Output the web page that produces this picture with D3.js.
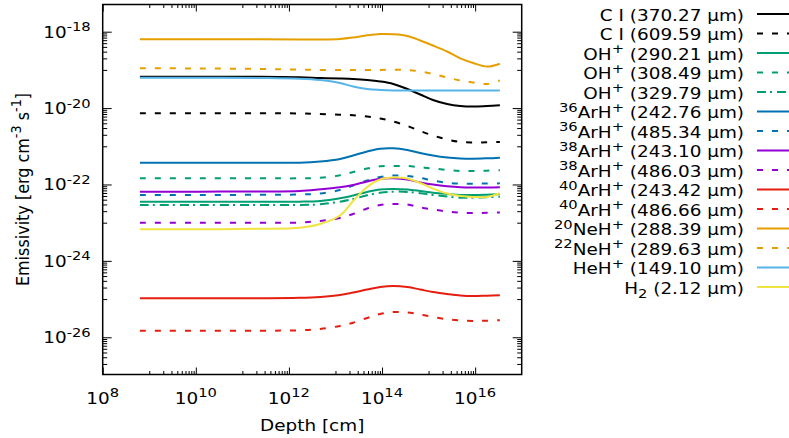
<!DOCTYPE html>
<html><head><meta charset="utf-8">
<script src="https://cdn.jsdelivr.net/npm/d3@7"></script>
<style>body{margin:0;background:#fff} text{font-family:"DejaVu Sans",sans-serif;fill:#000}</style>
</head><body><svg id="c" width="789" height="438"></svg>
<script>
// ---------- data ----------
const depth = [6.3e8, 1.2e10, 2.4e11, 1.7e12, 4.7e12, 1.25e13, 2.4e13, 4.8e13, 9.1e13, 1.74e14, 3.5e14, 6.6e14, 1.24e15, 2.5e15, 4.8e15, 9.1e15, 1.8e16, 3.4e16];
const ci370   = [6.6e-20,6.6e-20,6.6e-20,6.4e-20,6.14e-20,5.96e-20,5.78e-20,5.44e-20,4.97e-20,4.28e-20,3.16e-20,2.27e-20,1.63e-20,1.28e-20,1.135e-20,1.10e-20,1.135e-20,1.18e-20];
const ci609   = [7.31e-21,7.31e-21,7.31e-21,7.23e-21,7.01e-21,6.71e-21,6.49e-21,6.03e-21,5.35e-21,4.46e-21,3.40e-21,2.52e-21,1.92e-21,1.51e-21,1.30e-21,1.26e-21,1.27e-21,1.30e-21];
const oh290   = [3.55e-23,3.55e-23,3.55e-23,3.55e-23,3.70e-23,4.36e-23,5.15e-23,6.37e-23,7.40e-23,7.62e-23,7.40e-23,6.76e-23,6.10e-23,5.64e-23,5.31e-23,5.31e-23,5.41e-23,5.53e-23];
const oh308   = [1.45e-22,1.45e-22,1.45e-22,1.45e-22,1.50e-22,1.74e-22,2.12e-22,2.62e-22,2.99e-22,3.05e-22,3.05e-22,2.82e-22,2.62e-22,2.40e-22,2.25e-22,2.25e-22,2.30e-22,2.36e-22];
const oh329   = [2.90e-23,2.90e-23,2.90e-23,2.90e-23,3.03e-23,3.55e-23,4.17e-23,5.21e-23,6.10e-23,6.49e-23,6.37e-23,5.89e-23,5.31e-23,4.85e-23,4.51e-23,4.51e-23,4.62e-23,4.80e-23];
const ar36a   = [3.72e-22,3.72e-22,3.72e-22,3.72e-22,4.00e-22,4.66e-22,5.74e-22,7.31e-22,8.65e-22,8.87e-22,8.00e-22,6.68e-22,5.74e-22,5.09e-22,4.80e-22,4.73e-22,4.85e-22,5.04e-22];
const ar36b   = [5.31e-23,5.31e-23,5.37e-23,5.47e-23,5.81e-23,7.18e-23,9.42e-23,1.27e-22,1.57e-22,1.72e-22,1.67e-22,1.48e-22,1.27e-22,1.11e-22,1.05e-22,1.05e-22,1.06e-22,1.07e-22];
const ar38a   = [6.49e-23,6.49e-23,6.56e-23,6.76e-23,7.48e-23,8.45e-23,9.70e-23,1.20e-22,1.41e-22,1.45e-22,1.35e-22,1.13e-22,1.00e-22,9.02e-23,8.49e-23,8.34e-23,8.34e-23,8.45e-23];
const ar38b   = [1.00e-23,1.00e-23,1.00e-23,1.01e-23,1.11e-23,1.33e-23,1.69e-23,2.36e-23,2.90e-23,3.09e-23,2.99e-23,2.50e-23,2.22e-23,1.96e-23,1.83e-23,1.79e-23,1.82e-23,1.85e-23];
const ar40a   = [1.05e-25,1.05e-25,1.05e-25,1.08e-25,1.14e-25,1.28e-25,1.49e-25,1.78e-25,2.07e-25,2.20e-25,2.07e-25,1.78e-25,1.53e-25,1.36e-25,1.24e-25,1.20e-25,1.23e-25,1.26e-25];
const ar40b   = [1.49e-26,1.49e-26,1.49e-26,1.52e-26,1.65e-26,1.98e-26,2.41e-26,3.20e-26,4.07e-26,4.59e-26,4.46e-26,3.95e-26,3.40e-26,2.96e-26,2.75e-26,2.67e-26,2.72e-26,2.79e-26];
const ne20    = [6.32e-19,6.32e-19,6.32e-19,6.28e-19,6.25e-19,6.45e-19,7.05e-19,8.05e-19,8.71e-19,8.55e-19,7.71e-19,5.89e-19,4.36e-19,3.03e-19,2.01e-19,1.52e-19,1.22e-19,1.45e-19];
const ne22    = [1.10e-19,1.09e-19,1.06e-19,1.02e-19,9.93e-20,9.93e-20,9.93e-20,9.93e-20,9.93e-20,1.01e-19,9.93e-20,9.08e-20,7.82e-20,6.32e-20,5.28e-20,4.68e-20,4.28e-20,5.28e-20];
const heh     = [6.25e-20,6.25e-20,6.14e-20,5.89e-20,5.44e-20,4.54e-20,3.67e-20,3.16e-20,2.98e-20,2.89e-20,2.89e-20,2.89e-20,2.89e-20,2.89e-20,2.89e-20,2.89e-20,2.89e-20,2.89e-20];
const h2      = [6.71e-24,6.71e-24,6.92e-24,7.40e-24,9.25e-24,1.54e-23,3.70e-23,8.61e-23,1.35e-22,1.52e-22,1.44e-22,1.09e-22,7.85e-23,5.81e-23,5.00e-23,4.71e-23,4.71e-23,5.89e-23];

const seriesLabels = ["C I (370.27 µm)","C I (609.59 µm)","OH^{+} (290.21 µm)","OH^{+} (308.49 µm)","OH^{+} (329.79 µm)",
  "^{36}ArH^{+} (242.76 µm)","^{36}ArH^{+} (485.34 µm)","^{38}ArH^{+} (243.10 µm)","^{38}ArH^{+} (486.03 µm)",
  "^{40}ArH^{+} (243.42 µm)","^{40}ArH^{+} (486.66 µm)","^{20}NeH^{+} (288.39 µm)","^{22}NeH^{+} (289.63 µm)",
  "HeH^{+} (149.10 µm)","H_{2} (2.12 µm)"];
const seriesValues = [ci370,ci609,oh290,oh308,oh329,ar36a,ar36b,ar38a,ar38b,ar40a,ar40b,ne20,ne22,heh,h2];
const xMajorExps = [8,10,12,14,16];
const yMajorExps = [-18,-20,-22,-24,-26];
const xTitle = "Depth [cm]";
const yTitle = "Emissivity [erg cm^{-3} s^{-1}]";

// ---------- styles ----------
const DASH = "6,9", DASHDOT = "9,4,2,5";
const styles = [
  {c:"#000000",d:null},{c:"#000000",d:DASH},
  {c:"#009e73",d:null},{c:"#009e73",d:DASH},{c:"#009e73",d:DASHDOT},
  {c:"#0072b2",d:null},{c:"#0072b2",d:DASH},
  {c:"#9400d3",d:null},{c:"#9400d3",d:DASH},
  {c:"#e51e10",d:null},{c:"#e51e10",d:DASH},
  {c:"#e69f00",d:null},{c:"#e69f00",d:DASH},
  {c:"#56b4e9",d:null},{c:"#f0e442",d:null}
];

const FS = 16, SX = 1.15;
const svg = d3.select("#c");
const L = 102.7, R = 521.7, T = 4.5, B = 374.5;
const x = d3.scaleLog().domain([1e8, 1e17]).range([L, R]);
const y = d3.scaleLog().domain([1.06e-27, 5.15e-18]).range([B, T]);

function rich(sel, str, fs){
  const parts = str.split(/(\^\{[^}]*\}|_\{[^}]*\})/).filter(s => s.length);
  let off = 0;
  parts.forEach(p => {
    let shift = 0, size = fs, t = p;
    if (p.startsWith("^{")) { shift = -0.4*fs; size = 0.8*fs; t = p.slice(2,-1); }
    else if (p.startsWith("_{")) { shift = 0.25*fs; size = 0.8*fs; t = p.slice(2,-1); }
    sel.append("tspan").attr("dy", shift - off).attr("font-size", size).text(t);
    off = shift;
  });
}

// ticks
const xMajor = xMajorExps.map(e => Math.pow(10, e));
const yMajor = yMajorExps.map(e => Math.pow(10, e));
const [xd0, xd1] = x.domain(), [yd0, yd1] = y.domain();
const xMinor = [], yMinor = [];
xMajorExps.forEach(e => { for (let k = 1; k <= 9; k++) { const v = k*Math.pow(10, e+1); if (v > xd0*1.0001 && v < xd1*0.999) xMinor.push(v); } });
[-28].concat(yMajorExps).forEach(e => { for (let k = 1; k <= 9; k++) { const v = k*Math.pow(10, e+1); if (v > yd0*1.0001 && v < yd1*0.999) yMinor.push(v); } });

function axisG(axis, tr){
  const g = svg.append("g").attr("transform", tr).call(axis);
  g.select(".domain").remove();
  g.selectAll("line").attr("stroke", "#000").attr("stroke-width", 1);
  g.selectAll("text").remove();
}
axisG(d3.axisBottom(x).tickValues(xMajor).tickSizeInner(-7).tickSizeOuter(0).tickFormat(""), `translate(0,${B})`);
axisG(d3.axisBottom(x).tickValues(xMinor).tickSizeInner(-3.5).tickSizeOuter(0).tickFormat(""), `translate(0,${B})`);
axisG(d3.axisTop(x).tickValues(xMajor).tickSizeInner(-7).tickSizeOuter(0).tickFormat(""), `translate(0,${T})`);
axisG(d3.axisTop(x).tickValues(xMinor).tickSizeInner(-3.5).tickSizeOuter(0).tickFormat(""), `translate(0,${T})`);
axisG(d3.axisLeft(y).tickValues(yMajor).tickSizeInner(-9).tickSizeOuter(0).tickFormat(""), `translate(${L},0)`);
axisG(d3.axisLeft(y).tickValues(yMinor).tickSizeInner(-4.5).tickSizeOuter(0).tickFormat(""), `translate(${L},0)`);
axisG(d3.axisRight(y).tickValues(yMajor).tickSizeInner(-9).tickSizeOuter(0).tickFormat(""), `translate(${R},0)`);
axisG(d3.axisRight(y).tickValues(yMinor).tickSizeInner(-4.5).tickSizeOuter(0).tickFormat(""), `translate(${R},0)`);

// tick labels
xMajorExps.forEach(e => {
  const t = svg.append("text").attr("text-anchor", "middle")
    .attr("transform", `translate(${x(Math.pow(10,e))},403.5) scale(${SX},1)`).attr("font-size", FS);
  rich(t, `10^{${e}}`, FS);
});
yMajorExps.forEach(e => {
  const t = svg.append("text").attr("text-anchor", "end")
    .attr("transform", `translate(90.7,${y(Math.pow(10,e)) + 6}) scale(${SX},1)`).attr("font-size", FS);
  rich(t, `10^{${e}}`, FS);
});

// titles
const xt = svg.append("text").attr("text-anchor", "middle")
  .attr("transform", `translate(${(L+R)/2},431) scale(${SX},1)`).attr("font-size", FS);
rich(xt, xTitle, FS);
const yt = svg.append("text").attr("text-anchor", "middle")
  .attr("transform", `translate(28.5,189.5) scale(${SX},1) rotate(-90)`).attr("font-size", FS);
rich(yt, yTitle, FS);

// lines
svg.append("clipPath").attr("id", "clip").append("rect").attr("x", L).attr("y", T).attr("width", R-L).attr("height", B-T);
const line = d3.line().x((d,i) => x(depth[i])).y(d => y(d)).curve(d3.curveCatmullRom.alpha(0.5));
const plot = svg.append("g").attr("clip-path", "url(#clip)");
seriesValues.forEach((vals, i) => {
  plot.append("path").attr("d", line(vals)).attr("fill", "none")
    .attr("stroke", styles[i].c).attr("stroke-width", 2)
    .attr("stroke-dasharray", styles[i].d);
});

// frame
svg.append("rect").attr("x", L).attr("y", T).attr("width", R-L).attr("height", B-T)
  .attr("fill", "none").attr("stroke", "#000").attr("stroke-width", 1.5);

// legend
seriesLabels.forEach((lab, i) => {
  const ly = 14 + 19.5*i;
  const t = svg.append("text").attr("text-anchor", "end")
    .attr("transform", `translate(744,${ly + 6.5}) scale(${SX},1)`).attr("font-size", FS);
  rich(t, lab, FS);
  svg.append("line").attr("x1", 757).attr("x2", 800).attr("y1", ly).attr("y2", ly)
    .attr("stroke", styles[i].c).attr("stroke-width", 2).attr("stroke-dasharray", styles[i].d);
});
</script></body></html>
